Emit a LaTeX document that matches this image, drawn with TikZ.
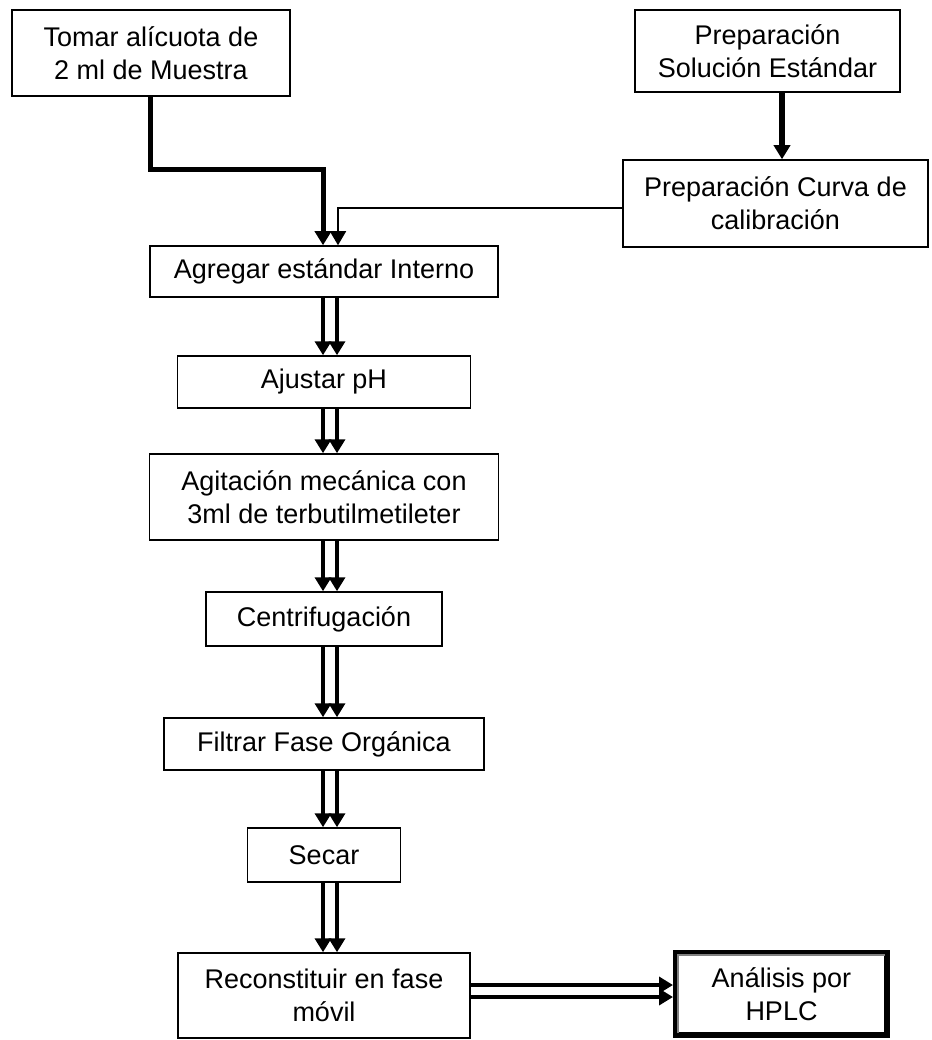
\documentclass[tikz,border=0pt]{standalone}
\usepackage{fontspec}
\setmainfont{Liberation Sans}
\usetikzlibrary{arrows.meta}
\begin{document}
\begin{tikzpicture}[x=1pt,y=-1pt,
  box/.style={draw,line width=1.5pt,inner sep=0pt,align=center,
    font=\fontsize{27}{33}\selectfont},
  tip/.style={-{Triangle[width=16pt,length=14pt]}},
  dbl/.style={tip,line width=4pt},
  stem/.style={tip,line width=5pt},
  thinline/.style={tip,line width=1.5pt},
]
\useasboundingbox (0,0) rectangle (931,1040);

\node[box,minimum width=278pt,minimum height=86pt] (tomar) at (151,53) {Tomar alícuota de\\2 ml de Muestra};
\node[box,minimum width=265pt,minimum height=82pt] (prepsol) at (767.5,51) {Preparación\\Solución Estándar};
\node[box,minimum width=305pt,minimum height=87pt] (calib) at (775.5,203.5) {Preparación Curva de\\calibración};
\node[box,minimum width=348pt,minimum height=51pt] (agregar) at (324,271.5) {Agregar estándar Interno};
\node[box,minimum width=293pt,minimum height=52pt] (ajustar) at (324,382) {Ajustar pH};
\node[box,minimum width=349pt,minimum height=86pt] (agit) at (324,497) {Agitación mecánica con\\3ml de terbutilmetileter};
\node[box,minimum width=236pt,minimum height=54pt] (centrif) at (324,619) {Centrifugación};
\node[box,minimum width=320pt,minimum height=52pt] (filtrar) at (324,744) {Filtrar Fase Orgánica};
\node[box,minimum width=153pt,minimum height=54pt] (secar) at (324,855) {Secar};
\node[box,minimum width=292pt,minimum height=85pt] (recon) at (324,995.5) {Reconstituir en fase\\móvil};
\node[box,line width=6pt,minimum width=211pt,minimum height=82pt] (hplc) at (781.5,994) {Análisis por\\HPLC};
\draw[gray,line width=1.5pt] ([shift={(5pt,5pt)}]hplc.south west) |- ([shift={(-5pt,-5pt)}]hplc.north east);

\coordinate (bend) at (323,170);
\draw[stem] ([xshift=-1pt]tomar.south) |- (bend) -- ([xshift=-1pt]agregar.north);
\draw[thinline] ([yshift=-4.5pt]calib.west) -| ([xshift=14pt]agregar.north);
\draw[tip,line width=6pt] ([xshift=14.5pt]prepsol.south) -- ([xshift=14.5pt]prepsol.south |- calib.north);

\foreach \a/\b in {agregar/ajustar,ajustar/agit,agit/centrif,centrif/filtrar,filtrar/secar,secar/recon}{
  \draw[dbl] ([xshift=-1pt]\a.south) -- ([xshift=-1pt]\a.south |- \b.north);
  \draw[dbl] ([xshift=13pt]\a.south) -- ([xshift=13pt]\a.south |- \b.north);
}
\draw[dbl] ([yshift=10.5pt]recon.east) -- ([yshift=10.5pt]recon.east -| hplc.west);
\draw[dbl] ([yshift=-1.5pt]recon.east) -- ([yshift=-1.5pt]recon.east -| hplc.west);
\end{tikzpicture}
\end{document}
